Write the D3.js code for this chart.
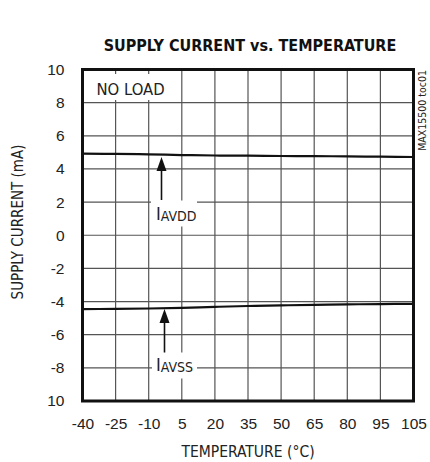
<!DOCTYPE html>
<html>
<head>
<meta charset="utf-8">
<script src="https://cdn.jsdelivr.net/npm/d3@7.9.0/dist/d3.min.js"></script>
<style>
  html, body { margin: 0; padding: 0; background: #fff; }
  svg { display: block; font-family: "DejaVu Sans Condensed", "Liberation Sans", sans-serif; }
</style>
</head>
<body>
<div id="chart"></div>
<script>
// --- Data ---
const temps = [-40, -25, -10, 5, 20, 35, 50, 65, 80, 95, 105];
const iAvdd = [4.92, 4.91, 4.88, 4.84, 4.81, 4.80, 4.78, 4.77, 4.76, 4.74, 4.72];
const iAvss = [-4.46, -4.44, -4.42, -4.38, -4.32, -4.27, -4.23, -4.20, -4.17, -4.15, -4.14];

const xTicks = [-40, -25, -10, 5, 20, 35, 50, 65, 80, 95, 105];
const yTicks = [10, 8, 6, 4, 2, 0, -2, -4, -6, -8, -10];
const yTickLabels = ["10", "8", "6", "4", "2", "0", "-2", "-4", "-6", "-8", "10"];

// --- Layout ---
const W = 430;
const H = 462;
const L = 82.5, R = 413.5, T = 69.5, B = 401;
const step = (R - L) / 10;

// last interval is printed 95 -> 105 but drawn as wide as the others
const x = d3.scaleLinear()
  .domain([-40, 95, 105])
  .range([L, L + 9 * step, R]);
const y = d3.scaleLinear().domain([-10, 10]).range([B, T]);

const svg = d3.select("#chart").append("svg").attr("width", W).attr("height", H);

// Title
svg.append("text")
  .attr("x", 250).attr("y", 51)
  .attr("text-anchor", "middle")
  .attr("font-size", 16).attr("font-weight", "bold").attr("fill", "#111")
  .text("SUPPLY CURRENT vs. TEMPERATURE");

// Grid
const grid = svg.append("g").attr("stroke", "#555").attr("stroke-width", 1.2);
grid.selectAll("line.v")
  .data(xTicks.slice(1, -1))
  .join("line")
  .attr("x1", d => x(d)).attr("x2", d => x(d))
  .attr("y1", T).attr("y2", B);
grid.selectAll("line.h")
  .data(yTicks.slice(1, -1))
  .join("line")
  .attr("class", "h")
  .attr("x1", L).attr("x2", R)
  .attr("y1", d => y(d)).attr("y2", d => y(d));

// Axes (labels only)
const xAxis = svg.append("g")
  .attr("transform", `translate(0,${B})`)
  .call(d3.axisBottom(x).tickValues(xTicks).tickSize(0).tickPadding(17)
    .tickFormat(d => String(d)));
xAxis.select(".domain").remove();
xAxis.selectAll("text").attr("font-size", 15.5).attr("fill", "#222").attr("font-family", null);

const yAxis = svg.append("g")
  .attr("transform", `translate(${L},0)`)
  .call(d3.axisLeft(y).tickValues(yTicks).tickSize(0).tickPadding(18)
    .tickFormat((d, i) => yTickLabels[i]));
yAxis.select(".domain").remove();
yAxis.selectAll("text").attr("font-size", 15.5).attr("fill", "#222").attr("font-family", null);

// Axis titles
svg.append("text")
  .attr("x", 248).attr("y", 457)
  .attr("text-anchor", "middle").attr("font-size", 15.5).attr("fill", "#222")
  .text("TEMPERATURE (°C)");
svg.append("text")
  .attr("transform", "translate(23,222) rotate(-90)")
  .attr("text-anchor", "middle").attr("font-size", 15).attr("fill", "#222")
  .text("SUPPLY CURRENT (mA)");

// Side code
svg.append("text")
  .attr("transform", "translate(426,70) rotate(-90)")
  .attr("text-anchor", "end").attr("font-size", 10.5).attr("fill", "#222")
  .text("MAX15500 toc01");

// Label boxes hiding grid behind annotations
function labelBox(x0, y0, w, h) {
  svg.append("rect").attr("x", x0).attr("y", y0).attr("width", w).attr("height", h).attr("fill", "#fff");
}
labelBox(92, 74, 72, 26);
labelBox(151, 200.5, 46, 26);
labelBox(152, 352.5, 45, 26);

// Curves
const line = d3.line()
  .x((d, i) => x(temps[i]))
  .y(d => y(d))
  .curve(d3.curveMonotoneX);
svg.append("path").datum(iAvdd).attr("d", line)
  .attr("fill", "none").attr("stroke", "#111").attr("stroke-width", 2.2);
svg.append("path").datum(iAvss).attr("d", line)
  .attr("fill", "none").attr("stroke", "#111").attr("stroke-width", 2.2);

// Frame
svg.append("rect")
  .attr("x", L).attr("y", T).attr("width", R - L).attr("height", B - T)
  .attr("fill", "none").attr("stroke", "#111").attr("stroke-width", 3);

// Annotations
svg.append("text")
  .attr("x", 96.5).attr("y", 95)
  .attr("font-size", 16.5).attr("fill", "#222")
  .text("NO LOAD");

function arrow(ax, tipY, baseY) {
  svg.append("line").attr("x1", ax).attr("x2", ax).attr("y1", tipY + 10).attr("y2", baseY)
    .attr("stroke", "#111").attr("stroke-width", 1.6);
  svg.append("path")
    .attr("d", `M${ax},${tipY} L${ax - 5},${tipY + 14} L${ax + 5},${tipY + 14} Z`)
    .attr("fill", "#111");
}
arrow(161.5, 157, 200);
arrow(164.5, 309, 352.5);

function subLabel(x0, y0, sub) {
  const t = svg.append("text").attr("x", x0).attr("y", y0).attr("fill", "#222");
  t.append("tspan").attr("font-size", 18).text("I");
  t.append("tspan").attr("font-size", 14).attr("dy", 1).text(sub);
}
subLabel(156, 220, "AVDD");
subLabel(156, 371, "AVSS");
</script>
</body>
</html>
